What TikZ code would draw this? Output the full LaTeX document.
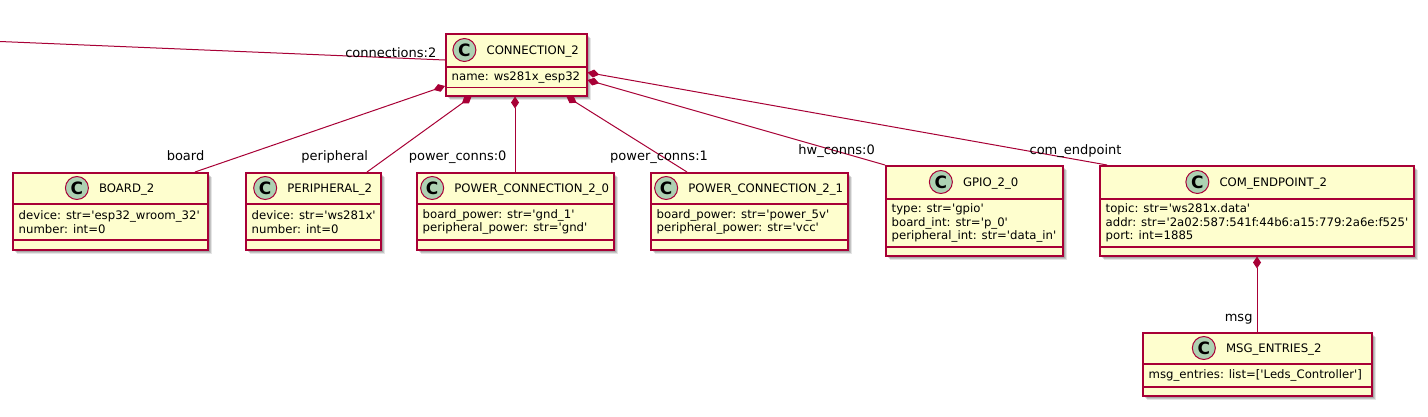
\documentclass[tikz,border=0pt]{standalone}
\usepackage{fontspec}
\setmainfont{DejaVu Sans}[Ligatures=TeXOff]
\usetikzlibrary{calc,arrows.meta,shadows}
\definecolor{umlborder}{HTML}{A80036}
\definecolor{umlfill}{HTML}{FEFECE}
\definecolor{umlcircle}{HTML}{ADD1B2}
\tikzset{
  classbox/.style={draw=umlborder, line width=1.5pt, fill=umlfill, rectangle, inner sep=0pt, anchor=north west,
    drop shadow={shadow xshift=4.5pt, shadow yshift=-4.5pt, opacity=0.10, fill=black},
    drop shadow={shadow xshift=3.5pt, shadow yshift=-3.5pt, opacity=0.14, fill=black},
    drop shadow={shadow xshift=2.5pt, shadow yshift=-2.5pt, opacity=0.14, fill=black}},
  sepline/.style={draw=umlborder, line width=1.5pt},
  titletext/.style={font=\fontsize{11.7}{14}\selectfont, inner sep=0pt, text height=8.5pt, text depth=0pt, anchor=center},
  attrtext/.style={font=\fontsize{11.7}{13.5}\selectfont, inner sep=0pt, align=left, anchor=west},
  ccircle/.style={circle, draw=umlborder, line width=1pt, fill=umlcircle, minimum size=23pt, inner sep=0pt, font=\fontsize{17}{17}\selectfont\bfseries},
  lbl/.style={font=\fontsize{13}{15}\selectfont, inner sep=0pt, text height=9.5pt, text depth=0pt},
  assoc/.style={draw=umlborder, line width=1pt},
  comp/.style={assoc, {Diamond[length=12pt,width=8pt]}-},
}
\newcommand\umlclass[9]{%
  \node[classbox, minimum width=#4pt, minimum height=#5pt] (#1) at (#2,#3) {};
  \draw[sepline] ($(#1.north west)+(0,#6)$) -- ($(#1.north east)+(0,#6)$);
  \draw[sepline] ($(#1.north west)+(0,#7)$) -- ($(#1.north east)+(0,#7)$);
  \node[titletext] (#1t) at ($(#1.north)+(16.5,{#6/2})$) {#8};
  \node[ccircle] (#1c) at ($(#1t.west)+(-22,0)$) {C};
  \node[attrtext] (#1a) at ($(#1.north west)+(6.5,{(#6+#7)/2})$) {#9};
}
\begin{document}
\begin{tikzpicture}[x=1pt,y=-1pt]
\fill[white] (0,0) rectangle (1428,416);
\useasboundingbox (0,0) rectangle (1428,416);

\umlclass{c2}{445}{33}{141}{62}{34}{54.5}{CONNECTION\_2}{name: ws281x\_esp32}
\umlclass{board}{12}{172}{195}{77}{32}{68}{BOARD\_2}{device: str='esp32\_wroom\_32'\\number: int=0}
\umlclass{periph}{245}{172}{135}{77}{32}{68}{PERIPHERAL\_2}{device: str='ws281x'\\number: int=0}
\umlclass{pc0}{416}{172}{197}{77}{32}{68}{POWER\_CONNECTION\_2\_0}{board\_power: str='gnd\_1'\\peripheral\_power: str='gnd'}
\umlclass{pc1}{650}{172}{197}{77}{32}{68}{POWER\_CONNECTION\_2\_1}{board\_power: str='power\_5v'\\peripheral\_power: str='vcc'}
\umlclass{gpio}{885}{165}{177}{90}{34}{82}{GPIO\_2\_0}{type: str='gpio'\\board\_int: str='p\_0'\\peripheral\_int: str='data\_in'}
\umlclass{com}{1099}{165}{314}{90}{34}{82}{COM\_ENDPOINT\_2}{topic: str='ws281x.data'\\addr: str='2a02:587:541f:44b6:a15:779:2a6e:f525'\\port: int=1885}
\umlclass{msg}{1142}{332}{229}{63}{32}{55}{MSG\_ENTRIES\_2}{msg\_entries: list=['Leds\_Controller']}

\coordinate (lend) at (0,41.5);
\draw[assoc] (lend) -- ($(c2.north west)+(0,27)$);
\draw[comp] ($(c2.north west)+(0,53)$) -- ($(board.north west)+(183,0)$);
\draw[comp] ($(c2.south west)+(26.5,0)$) -- ($(periph.north west)+(122,0)$);
\draw[comp] ($(c2.south west)+(70,0)$) -- ($(pc0.north west)+(99,0)$);
\draw[comp] ($(c2.south west)+(121.5,0)$) -- ($(pc1.north west)+(37,0)$);
\draw[comp] ($(c2.north east)+(0,47)$) -- (gpio.north west);
\draw[comp] ($(c2.north east)+(0,39.5)$) -- ($(com.north west)+(8,0)$);
\draw[comp] ($(com.south west)+(158,0)$) -- ($(msg.north west)+(115,0)$);

\node[lbl, anchor=east] (lconn) at (436.5,52.3) {connections:2};
\node[lbl, anchor=east] (lboard) at (204.5,155.7) {board};
\node[lbl, anchor=east] (lperiph) at (368.3,155.7) {peripheral};
\node[lbl, anchor=east] (lpc0) at (506.7,155.7) {power\_conns:0};
\node[lbl, anchor=west] (lpc1) at (610,155.7) {power\_conns:1};
\node[lbl, anchor=east] (lhw) at (875,150) {hw\_conns:0};
\node[lbl, anchor=east] (lcom) at (1121.7,149.3) {com\_endpoint};
\node[lbl, anchor=east] (lmsg) at (1252.7,316.7) {msg};
\end{tikzpicture}
\end{document}
